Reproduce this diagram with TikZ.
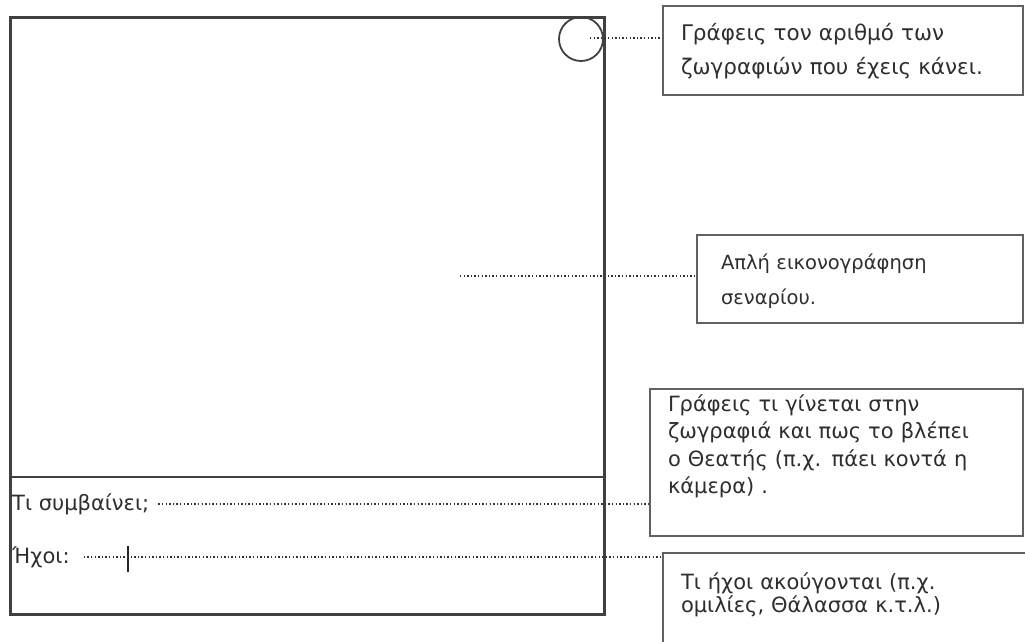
\documentclass[tikz,border=0pt]{standalone}
\usepackage{fontspec}
\setmainfont{DejaVu Sans}
\usetikzlibrary{positioning,calc}

\begin{document}
\begin{tikzpicture}[x=1pt,y=-1pt,
frame/.style={draw=black!75,line width=2.6pt},
note/.style={draw=black!62,line width=2pt,anchor=north west,align=left,inner ysep=0pt,text=black!82},
lead/.style={draw=black!80,line width=2.4pt,dash pattern=on 1.4pt off 2.2pt},
lbl/.style={anchor=west,inner sep=0pt,text=black!82,font=\fontsize{21}{24}\selectfont}]
\useasboundingbox (0,0) rectangle (1025,641);
\clip (0,0) rectangle (1025,641);

% the sheet
\node[frame,anchor=north west,inner sep=0pt,minimum width=594pt,minimum height=597pt] (sheet) at (9,16) {};
\coordinate (cut) at (9,477);
\draw[frame] (cut) -- (cut -| sheet.east);
\node[draw=black!75,line width=1.8pt,circle,inner sep=0pt,minimum size=44pt] (count) at (581,39) {};

\node[lbl] (what) at (12,504) {Τι συμβαίνει;};
\node[lbl] (snd) at (12,557) {Ήχοι:};
\coordinate (cur) at (128,559);
\draw[line width=2.4pt,black!85] (cur) ++(0,-13) -- ++(0,26);

% the notes
\node[note,inner xsep=18pt,text width=324pt,text height=34pt,text depth=55pt,
  font=\fontsize{21.5}{34}\selectfont] (b1) at (662,5)
  {Γράφεις τον αριθμό των\\ζωγραφιών που έχεις κάνει.};
\node[note,inner xsep=24pt,text width=278pt,text height=34pt,text depth=54pt,
  font=\fontsize{19.5}{35}\selectfont] (b2) at (696,234)
  {Απλή εικονογράφηση\\σεναρίου.};
\node[note,inner xsep=18pt,text width=337pt,text height=22pt,text depth=125pt,
  font=\fontsize{21}{27.5}\selectfont] (b3) at (649,388)
  {Γράφεις τι γίνεται στην\\ζωγραφιά και πως το βλέπει\\ο Θεατής (π.χ. πάει κοντά η\\κάμερα) .};
\node[note,inner xsep=18pt,text width=364pt,text height=36pt,text depth=80pt,
  font=\fontsize{21}{23}\selectfont] (b4) at (662,552)
  {Τι ήχοι ακούγονται (π.χ.\\ομιλίες, Θάλασσα κ.τ.λ.)};

% leaders
\coordinate (mid) at (460,276);
\draw[lead] ([xshift=9pt,yshift=1pt]count.center) -- ([yshift=1pt]count.center -| b1.west);
\draw[lead] (mid) -- (mid -| b2.west);
\draw[lead] ([xshift=9pt]what.east) -- (what.east -| b3.west);
\draw[lead] ([xshift=14pt]snd.east) -- (snd.east -| b4.west);
\end{tikzpicture}
\end{document}
